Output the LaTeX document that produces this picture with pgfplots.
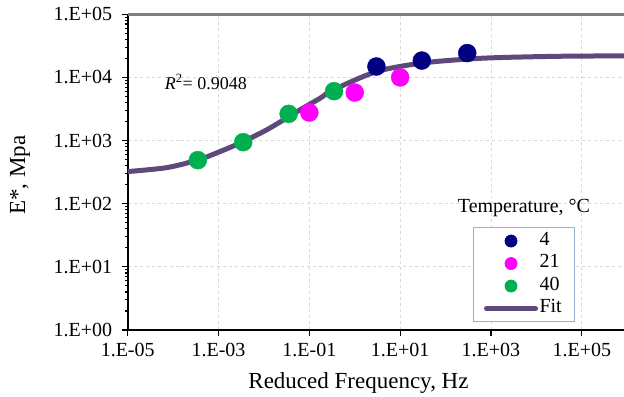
\documentclass[border=0pt]{standalone}
\usepackage{fontspec}
\setmainfont{Liberation Serif}
\usepackage{pgfplots}
\pgfplotsset{compat=1.18}
\definecolor{navyc}{HTML}{000080}
\definecolor{magc}{HTML}{FF00FF}
\definecolor{greenc}{HTML}{00B050}
\definecolor{fitc}{HTML}{5F497A}
\definecolor{legb}{HTML}{95B3D7}
\begin{document}
\begin{tikzpicture}
\begin{axis}[
  xmode=log, ymode=log,
  scale only axis, width=496.3bp, height=315.7bp,
  xmin=1e-5, xmax=8.5e5, ymin=1, ymax=1e5,
  axis x line*=bottom, axis y line*=left,
  axis line style={black, line width=1.8bp, -},
  xtick={1e-5,1e-3,1e-1,1e1,1e3,1e5},
  xticklabels={1.E-05,1.E-03,1.E-01,1.E+01,1.E+03,1.E+05},
  ytick={1,10,100,1000,10000,100000},
  yticklabels={1.E+00,1.E+01,1.E+02,1.E+03,1.E+04,1.E+05},
  minor xtick={}, minor ytick={},
  tick align=outside, major tick length=6bp,
  tick style={black, line width=1.2bp},
  grid=major, grid style={dashed, color=black!15, line width=0.8bp},
  ticklabel style={font=\fontsize{20bp}{23bp}\selectfont},
  xticklabel style={yshift=-4bp},
  yticklabel style={xshift=-6bp},
  xlabel={Reduced Frequency, Hz}, ylabel={E*, Mpa},
  label style={font=\fontsize{23bp}{26bp}\selectfont},
  xlabel style={at={(rel axis cs:0.465,0)}, anchor=base, yshift=-58bp},
  ylabel style={at={(rel axis cs:0,0.49)}, anchor=center, yshift=107.7bp},
  legend style={at={(rel axis cs:0.695,0.325)}, anchor=north west, draw=legb, line width=0.8bp,
    font=\fontsize{20bp}{23bp}\selectfont, inner xsep=11bp, inner ysep=2bp,
    nodes={inner sep=1.5bp, text height=14bp, text depth=5.5bp}},
  legend cell align=left,
]
\addplot[color=fitc, line width=5bp, smooth, forget plot] coordinates {
  (1e-5,323) (7.24e-5,373) (3.53e-4,494) (1.08e-3,670) (3.52e-3,964)
  (0.0115,1479) (0.0357,2399) (0.0624,3069) (0.172,4677) (0.337,6353)
  (3.05,12390) (29.9,16870) (293,19500) (1585,20650) (31600,21630) (8.5e5,21980)
};
\addplot[only marks, mark=*, mark size=9bp, color=navyc,
  legend image code/.code={\path[draw=none,fill=none] (0bp,0bp) -- (54bp,0bp); \fill[navyc] (27bp,0bp) circle (6bp);}]
  coordinates {(3,14900) (30,18500) (300,24300)};
\addlegendentry{4}
\addplot[only marks, mark=*, mark size=9bp, color=magc,
  legend image code/.code={\path[draw=none,fill=none] (0bp,0bp) -- (54bp,0bp); \fill[magc] (27bp,0bp) circle (6bp);}]
  coordinates {(0.1,2780) (1,5760) (10,10000)};
\addlegendentry{21}
\addplot[only marks, mark=*, mark size=9bp, color=greenc,
  legend image code/.code={\path[draw=none,fill=none] (0bp,0bp) -- (54bp,0bp); \fill[greenc] (27bp,0bp) circle (6bp);}]
  coordinates {(3.5e-4,490) (3.5e-3,944) (0.035,2650) (0.35,6060)};
\addlegendentry{40}
\addlegendimage{legend image code/.code={\draw[line width=5bp, fitc, line cap=round] (2.5bp,0bp) -- (51.5bp,0bp);}}
\addlegendentry{Fit}
\node[anchor=base west, font=\fontsize{18bp}{21bp}\selectfont] at (axis cs:5.5e-5,6530) {\textit{R}\textsuperscript{2}= 0.9048};
\node[anchor=base, font=\fontsize{20bp}{23bp}\selectfont] at (rel axis cs:0.7985,0.3706) {Temperature, °C};
\coordinate (ll) at (rel axis cs:0,0);
\coordinate (ur) at (rel axis cs:1,1);
\end{axis}
\draw[black!50, line width=2.7bp] (ll|-ur) -- (ur);
\pgfresetboundingbox
\path[use as bounding box] ([xshift=-127.7bp,yshift=-67bp]ll) rectangle ([yshift=14.3bp]ur);
\end{tikzpicture}
\end{document}
